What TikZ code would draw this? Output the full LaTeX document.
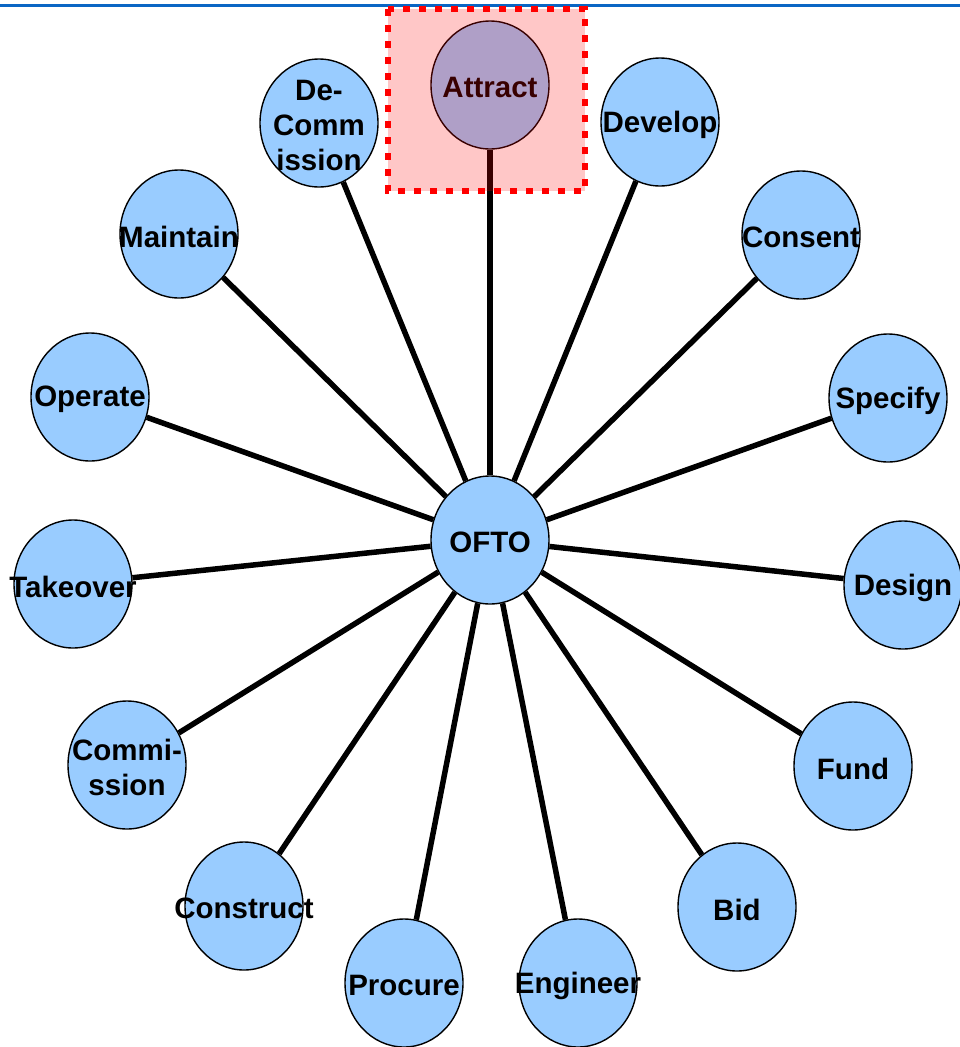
\documentclass[tikz,border=0pt]{standalone}
\usepackage{fontspec}
\setmainfont{Liberation Sans}
\usetikzlibrary{shapes.geometric,backgrounds}
\definecolor{bubblue}{RGB}{153,204,255}
\definecolor{topblue}{RGB}{10,102,196}
\begin{document}
\begin{tikzpicture}[x=1pt,y=-1pt,
  bub/.style={ellipse,draw=black,line width=1.4pt,fill=bubblue,minimum width=118pt,minimum height=128pt,inner sep=0pt},
  lbl/.style={font=\fontsize{29.5}{35}\selectfont\bfseries,align=center,inner sep=0pt,yshift=-2.5pt},
  spoke/.style={line width=5.5pt,black},
  hilite/.style={fill=red,fill opacity=0.22},
  hiliteborder/.style={draw=red,line width=6pt,dash pattern=on 7pt off 9pt}]
\useasboundingbox (0,0) rectangle (960,1047);
\draw[topblue,line width=3pt] (0,5) coordinate (tl) -- (960,5) coordinate (tr);
% nodes
\node[bub] (ofto) at (490,540) {};
\node[bub] (attract) at (490,85) {};
\node[bub] (develop) at (660,122) {};
\node[bub] (consent) at (801,235) {};
\node[bub] (specify) at (888,398) {};
\node[bub] (design) at (903,585) {};
\node[bub] (fund) at (853,766) {};
\node[bub] (bid) at (737,907) {};
\node[bub] (engineer) at (578,983) {};
\node[bub] (procure) at (404,983) {};
\node[bub] (construct) at (244,906) {};
\node[bub] (commission) at (127,765) {};
\node[bub] (takeover) at (73,584) {};
\node[bub] (operate) at (90,397) {};
\node[bub] (maintain) at (179,234) {};
\node[bub] (decomm) at (319,123) {};
% spokes
\begin{scope}[on background layer]
\foreach \n in {attract,develop,consent,specify,design,fund,bid,engineer,procure,construct,commission,takeover,operate,maintain,decomm}
  \draw[spoke] (ofto) -- (\n);
\end{scope}
% labels
\node[lbl] at (ofto) {OFTO};
\node[lbl] at (attract) {Attract};
\node[lbl] at (develop) {Develop};
\node[lbl] at (consent) {Consent};
\node[lbl] at (specify) {Specify};
\node[lbl] at (design) {Design};
\node[lbl] at (fund) {Fund};
\node[lbl] at (bid) {Bid};
\node[lbl] at (engineer) {Engineer};
\node[lbl] at (procure) {Procure};
\node[lbl] at (construct) {Construct};
\node[lbl] at (commission) {Commi-\\ssion};
\node[lbl] at (takeover) {Takeover};
\node[lbl] at (operate) {Operate};
\node[lbl] at (maintain) {Maintain};
\node[lbl] at (decomm) {De-\\Comm\\ission};
% highlight box
\fill[hilite] (388,9) rectangle (585,191);
\draw[hiliteborder] (388,9) rectangle (585,191);
\end{tikzpicture}
\end{document}
